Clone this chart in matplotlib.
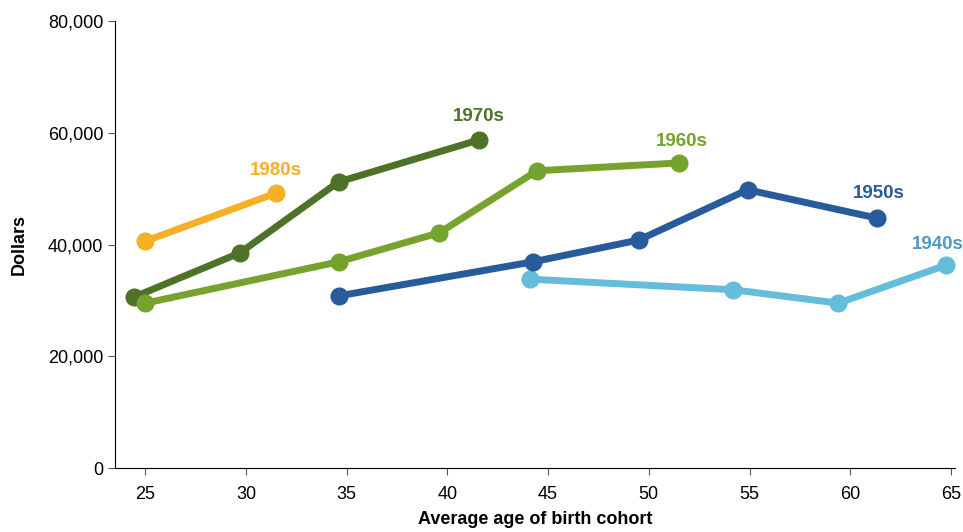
import matplotlib.pyplot as plt
from matplotlib.ticker import FuncFormatter

plt.rcParams['font.family'] = ['Liberation Sans', 'DejaVu Sans']

# average age of birth cohort / median income (dollars)
age_1940s = [44.1, 54.2, 59.4, 64.75]
inc_1940s = [33800, 31900, 29500, 36300]

age_1950s = [34.6, 44.25, 49.5, 54.9, 61.35]
inc_1950s = [30800, 36900, 40800, 49800, 44700]

age_1970s = [24.45, 29.7, 34.6, 41.55]
inc_1970s = [30600, 38500, 51200, 58700]

age_1960s = [25.0, 34.6, 39.6, 44.45, 51.5]
inc_1960s = [29500, 36900, 42100, 53200, 54600]

age_1980s = [25.0, 31.5]
inc_1980s = [40600, 49200]

series = [
    ('1940s', age_1940s, inc_1940s, '#64bddb', '#4f9ac2', (-6, 8.5)),
    ('1950s', age_1950s, inc_1950s, '#275b9c', '#275b9c', (1, 11.5)),
    ('1970s', age_1970s, inc_1970s, '#4e7228', '#4e7228', (0, 10.5)),
    ('1960s', age_1960s, inc_1960s, '#76a22e', '#76a22e', (2, 9.5)),
    ('1980s', age_1980s, inc_1980s, '#f5b027', '#f5b027', (0, 10)),
]

fig = plt.figure(figsize=(9.63, 5.32), dpi=100)
ax = fig.add_axes([0.1194, 0.1203, 0.8723, 0.8402])

for name, x, y, col, lcol, off in series:
    ax.plot(x, y, color=col, lw=5, marker='o', ms=12, solid_capstyle='round')
    ax.annotate(name, (x[-1], y[-1]), xytext=off, textcoords='offset points',
                ha='center', va='bottom', color=lcol, fontsize=13.5, fontweight='bold')

ax.set_xlim(23.5, 65.2)
ax.set_ylim(0, 80000)
ax.set_xticks(range(25, 66, 5))
ax.set_yticks(range(0, 80001, 20000))
ax.yaxis.set_major_formatter(FuncFormatter(lambda v, p: f'{int(v):,}'))
ax.tick_params(labelsize=13, length=5, color='#555555')
ax.tick_params(axis='x', pad=8)
ax.spines['top'].set_visible(False)
ax.spines['right'].set_visible(False)
ax.set_xlabel('Average age of birth cohort', fontsize=13, fontweight='bold', labelpad=6)
ax.set_ylabel('Dollars', fontsize=13, fontweight='bold', labelpad=14)

fig.savefig('out.png', dpi=100)
